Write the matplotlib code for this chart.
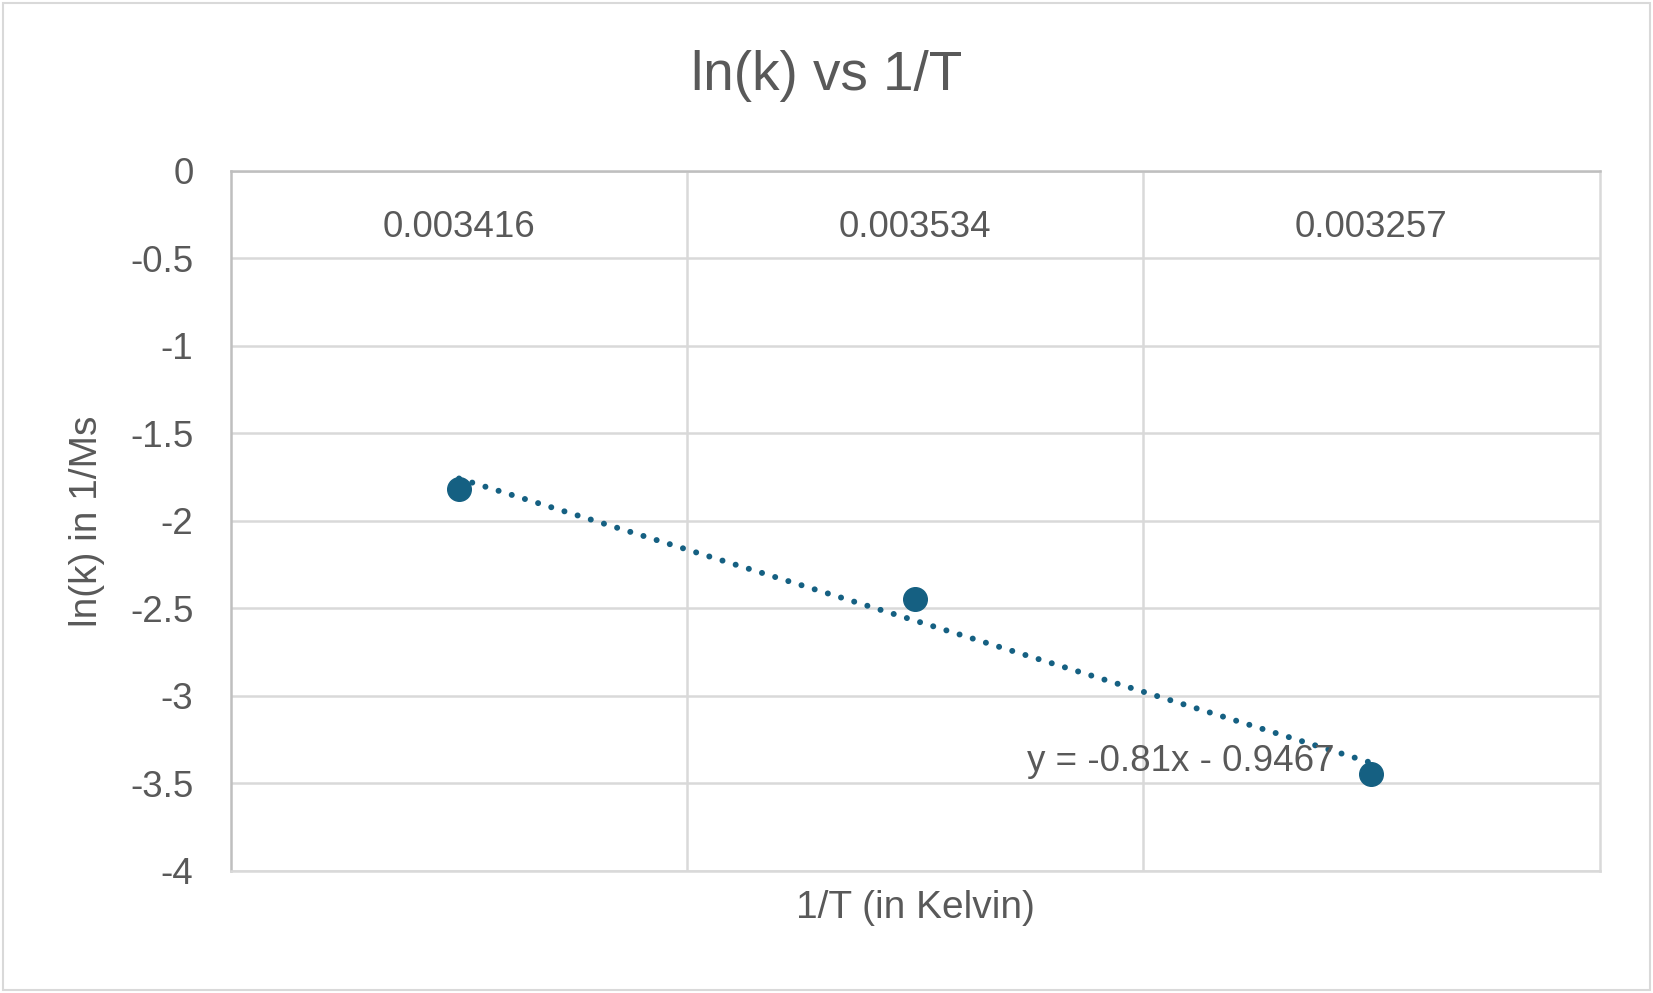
import matplotlib
matplotlib.use("Agg")
import matplotlib.pyplot as plt
import numpy as np
from matplotlib.patches import Rectangle

plt.rcParams['font.family'] = ['Liberation Sans', 'DejaVu Sans']

# data
categories = ["0.003416", "0.003534", "0.003257"]
ln_k = [-1.82, -2.445, -3.445]
y_ticks = [0, -0.5, -1, -1.5, -2, -2.5, -3, -3.5, -4]
y_tick_labels = ["0", "-0.5", "-1", "-1.5", "-2", "-2.5", "-3", "-3.5", "-4"]
eq_label = "y = -0.81x - 0.9467"

text_col = "#595959"
dot_col = "#156082"
grid_col = "#d9d9d9"
axis_col = "#bfbfbf"

fig = plt.figure(figsize=(16.53, 9.93), dpi=100)
ax = fig.add_axes([0.1397, 0.1229, 0.828, 0.705])

x = np.arange(1, len(categories) + 1)
ax.plot(x, ln_k, 'o', color=dot_col, markersize=17, zorder=4)

# linear trendline (Excel style, dotted)
slope, icpt = np.polyfit(x, ln_k, 1)
xt = np.array([x[0], x[-1]])
ax.plot(xt, slope * xt + icpt, color=dot_col, lw=4.3,
        linestyle=(0, (0.01, 2.3)), dash_capstyle='round', zorder=3)
ax.text(2.583, -3.373, eq_label, fontsize=26.5, color=text_col,
        ha='center', va='center', zorder=5)

ax.set_xlim(0.5, 3.5)
ax.set_ylim(-4, 0)

# horizontal grid
ax.set_yticks(y_ticks)
ax.set_yticklabels(y_tick_labels)
ax.yaxis.grid(True, color=grid_col, lw=1.8)
# vertical grid between categories
ax.set_xticks(x)
ax.set_xticks([1.5, 2.5], minor=True)
ax.xaxis.grid(True, which='minor', color=grid_col, lw=1.8)
ax.xaxis.grid(False, which='major')
ax.set_axisbelow(True)

ax.xaxis.tick_top()
ax.set_xticklabels(categories)
ax.tick_params(axis='x', which='both', length=0, pad=-41,
               labelsize=26.5, labelcolor=text_col)
for lbl in ax.get_xticklabels():
    lbl.set_va('center')
ax.tick_params(axis='y', length=0, pad=27, labelsize=26.5, labelcolor=text_col)

for side in ['left', 'top']:
    ax.spines[side].set_color(axis_col)
    ax.spines[side].set_linewidth(1.8)
for side in ['right', 'bottom']:
    ax.spines[side].set_color(grid_col)
    ax.spines[side].set_linewidth(1.8)

ax.set_xlabel("1/T (in Kelvin)", fontsize=28, color=text_col)
ax.xaxis.set_label_position('bottom')
ax.xaxis.set_label_coords(0.5, -0.053)
ax.xaxis.label.set_va('center')
ax.set_ylabel("ln(k) in 1/Ms", fontsize=28, color=text_col)
ax.yaxis.set_label_coords(-0.105, 0.5)
ax.yaxis.label.set_va('center')

fig.suptitle("ln(k) vs 1/T", fontsize=39.5, color=text_col, y=0.9235, va='center')

# outer chart border
fig.patches.append(Rectangle((0.002, 0.003), 0.996, 0.994, transform=fig.transFigure,
                             fill=False, edgecolor=grid_col, lw=1.5))

fig.savefig("out.png", dpi=100)
